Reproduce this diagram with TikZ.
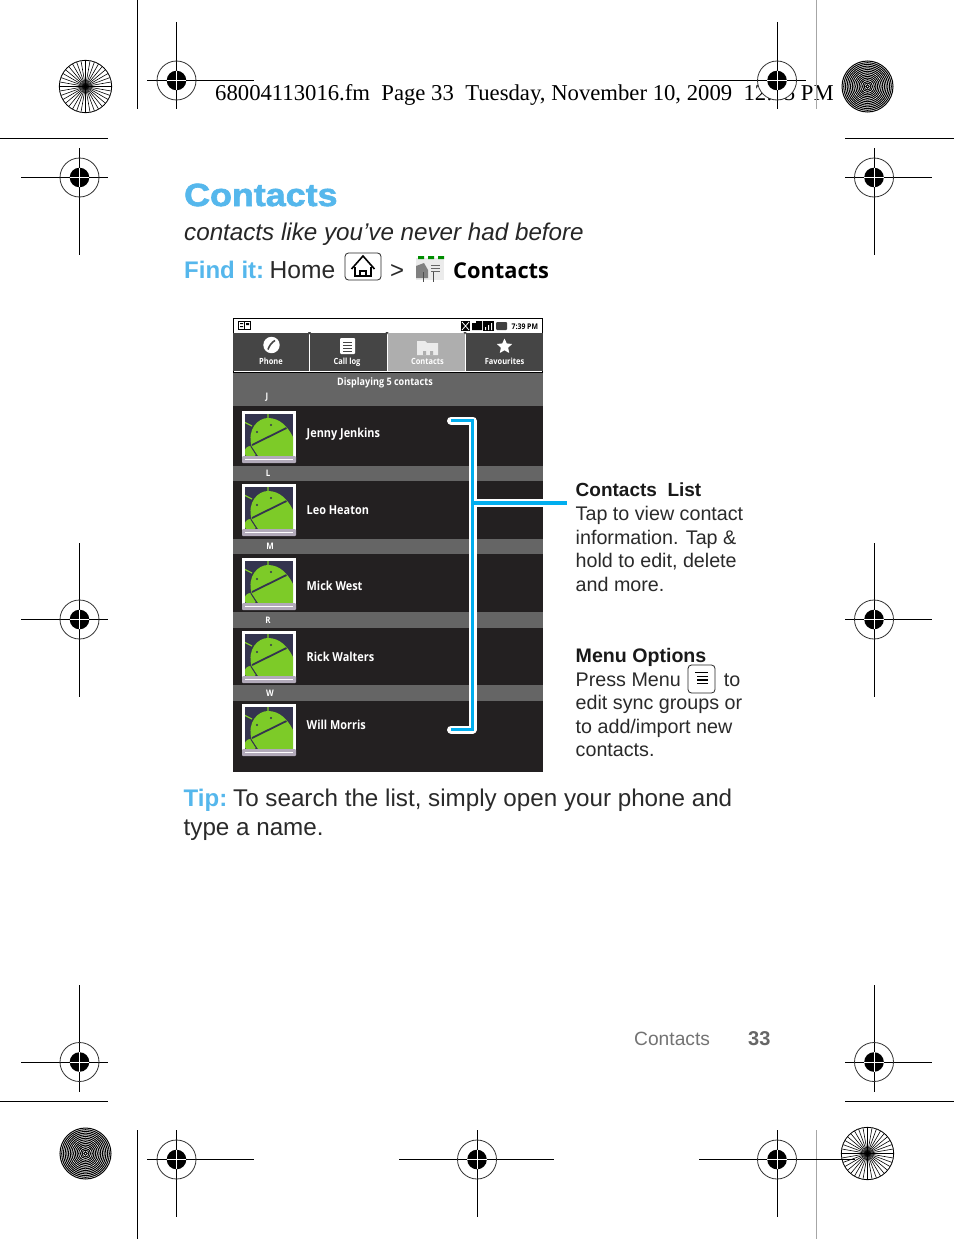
\documentclass[tikz,border=0pt]{standalone}
\usepackage{fontspec}
\setmainfont{Liberation Sans}
\newfontfamily\headfont{Liberation Serif}
\newfontfamily\titlefont[FakeStretch=1.12,FakeBold=2]{Liberation Sans Bold}
\newfontfamily\droidfont[FakeStretch=0.88]{Open Sans}
\newfontfamily\openfont{Open Sans}
\usetikzlibrary{shapes.geometric}
\definecolor{mottitle}{HTML}{55B7EC}
\definecolor{motbody}{HTML}{2A2A2A}
\definecolor{calloutblue}{HTML}{00AEEF}
\definecolor{rowdark}{HTML}{232021}
\definecolor{rowgray}{HTML}{656565}
\definecolor{tabdark}{HTML}{454545}
\definecolor{tablight}{HTML}{AEAEAE}
\definecolor{picback}{HTML}{34344F}
\definecolor{picgreen}{HTML}{7DCB28}
\definecolor{picbar}{HTML}{B2AABA}
\tikzset{
  txt/.style={inner sep=0pt,anchor=base west,text=motbody},
  body/.style={txt,font=\fontsize{19.7}{23.5}\selectfont,align=left},
  key/.style={draw=black!85,line width=0.8pt,rounded corners=3.5pt,fill=white},
  tablabel/.style={inner sep=0pt,anchor=base,text=white,font=\droidfont\bfseries\fontsize{8.5}{8.5}\selectfont},
  rowname/.style={inner sep=0pt,anchor=base west,text=white,font=\droidfont\bfseries\fontsize{12.4}{12.4}\selectfont},
  rowletter/.style={inner sep=0pt,anchor=base,text=white,font=\droidfont\bfseries\fontsize{9}{9}\selectfont},
  glow/.style={draw=white,line width=8pt,line cap=round,line join=round},
  bluebar/.style={draw=calloutblue,line width=3.4pt,line join=miter},
  markline/.style={black,line width=1pt},
}
% registration mark: name, x, y, left, right, top, bottom
\newcommand{\regmark}[7]{
  \coordinate (#1) at (#2,#3);
  \fill[white] (#1) circle[radius=19.5pt];
  \draw[markline] (#4,#3) -- (#5,#3) (#2,#6) -- (#2,#7);
  \draw[black!80,line width=0.8pt] (#1) circle[radius=19.5pt];
  \fill[black] (#1) circle[radius=9.8pt];
  \draw[white,line width=0.9pt] (#2-9.8,#3) -- (#2+9.8,#3) (#2,#3-9.8) -- (#2,#3+9.8);
}
\newcommand{\spokes}[2]{
  \foreach \a in {0,10,...,350}
    \draw[black,line width=0.6pt] (#1,#2) -- +(\a:26.2pt);
  \draw[black,line width=0.8pt] (#1,#2) circle[radius=26.2pt];
}
\newcommand{\rings}[2]{
  \foreach \r in {1.7,3.4,...,26.2}
    \draw[black,line width=1pt] (#1,#2) circle[radius=\r pt];
}
% contact picture, #1 = top edge
\newcommand{\contactpic}[1]{
  \begin{scope}[shift={(0,#1)}]
    \fill[white] (242,0) rectangle (296,46);
    \fill[picback] (245,3) rectangle (293,45);
    \begin{scope}
      \clip (245,3) rectangle (293,45);
      \fill[picgreen] (250.5,41) circle[radius=6pt];
      \draw[picback,line width=1.5pt] (251,35) -- (258,46);
      \fill[picgreen] (251.5,35) .. controls (247,18) and (258,7) .. (268,7) .. controls (280,7) and (288,16) .. (293,26) -- (293,45) -- (258,45) -- cycle;
      \draw[picgreen,line width=1.2pt] (268,2) -- (268,9) (244,11) -- (252,15);
      \draw[picback,line width=1.8pt] (252,34) -- (286.5,17);
      \fill[picback] (257,21) circle[radius=1.2pt] (271,14) circle[radius=1.2pt];
    \end{scope}
    \fill[picbar,rounded corners=1pt] (242,45) rectangle (296,52);
    \draw[white,line width=1pt] (245,48.5) -- (293,48.5);
  \end{scope}
}
\begin{document}
\begin{tikzpicture}[x=1pt,y=-1pt]
\useasboundingbox (0,0) rectangle (954,1239);
\fill[white] (0,0) rectangle (954,1239);

% printer header
\node[txt,text=black,font=\headfont\fontsize{22.7}{22.7}\selectfont] (header) at (215,100) {68004113016.fm\ \ Page 33\ \ Tuesday, November 10, 2009\ \ 12:15 PM};

% crop lines
\draw[markline] (0,138) -- (108,138) (845,138) -- (954,138);
\draw[markline] (0,1101) -- (108,1101) (845,1101) -- (954,1101);
\draw[markline] (137.5,0) -- (137.5,109) (137.5,1130) -- (137.5,1239);
\draw[black!35,line width=1pt] (816.5,0) -- (816.5,109) (816.5,1130) -- (816.5,1239);

% targets
\spokes{85.5}{86.5}
\rings{867.5}{86.5}
\rings{85.5}{1153.5}
\spokes{867.5}{1153.5}

\regmark{markA}{176.5}{80.5}{147}{254}{22}{109}
\regmark{markB}{777}{80.5}{699}{806}{22}{109}
\regmark{markC}{79.5}{177.5}{21}{108}{148}{255}
\regmark{markD}{874}{177.5}{845}{932}{148}{255}
\regmark{markE}{79.5}{619.5}{21}{108}{543}{697}
\regmark{markF}{874}{619.5}{845}{932}{543}{697}
\regmark{markG}{79.5}{1062}{21}{108}{985}{1092}
\regmark{markH}{874}{1062}{845}{932}{985}{1092}
\regmark{markI}{176.5}{1159.5}{147}{254}{1130}{1217}
\regmark{markJ}{477}{1159.5}{399}{554}{1130}{1217}
\regmark{markK}{777}{1159.5}{699}{855}{1130}{1217}

% headings
\node[txt,text=mottitle,font=\titlefont\fontsize{32}{32}\selectfont] (title) at (184,206) {Contacts};
\node[txt,text=black!85,font=\itshape\fontsize{24.2}{24.2}\selectfont] (subtitle) at (184,240) {contacts like you’ve never had before};
\node[txt,text=mottitle,font=\bfseries\fontsize{24}{24}\selectfont] (findit) at (184,278) {Find it:};
\node[txt,font=\fontsize{24.6}{24.6}\selectfont] (home) at (269.5,278) {Home};
\node[txt,font=\fontsize{24}{24}\selectfont] (gt) at (390,278) {>};
\node[txt,text=black,font=\openfont\bfseries\fontsize{21.8}{21.8}\selectfont] (findcontacts) at (453,278) {Contacts};

% home key
\node[key,minimum width=36pt,minimum height=27pt,inner sep=0pt] (homekey) at (363,266.5) {};
\draw[black,line width=1.6pt,line join=miter] (351.5,269) -- (363,256) -- (374.5,269);
\draw[black,line width=1.3pt] (355,267) -- (355,276) -- (371,276) -- (371,267);
\draw[black,line width=1.3pt] (360,276) -- (360,271) -- (366,271) -- (366,276);

% contacts icon
\fill[black!8] (416,258) rectangle (444,280);
\fill[green!55!black] (418,256) rectangle (424,259) (428,256) rectangle (434,259) (438,256) rectangle (444,259);
\fill[black!50] (416,266) -- (424,263) -- (428,270) -- (428,278) -- (416,278) -- cycle;
\draw[black!70,line width=1pt] (423,272) -- (423,282) (433,272) -- (433,282);
\draw[black!60,line width=0.7pt] (431,265) -- (440,265) (431,268) -- (440,268) (431,271) -- (440,271);

% phone screen
\fill[rowdark] (233,318) rectangle (543,772);
\fill[white] (233,318) rectangle (543,373);
\draw[black,line width=1pt] (233.5,318.5) rectangle (542.5,372);
\fill[tabdark] (233,333) rectangle (309,371);
\fill[tabdark] (310,333) rectangle (386.5,371);
\fill[tablight] (387.5,333) rectangle (464.5,371);
\fill[tabdark] (465.5,333) rectangle (543,371);
\fill[rowgray] (233,373) rectangle (543,406);
\foreach \ya/\yb in {466/481,539/554,612/628,685/701}
  \fill[rowgray] (233,\ya) rectangle (543,\yb);
\foreach \x in {309.5,387,465}
  \fill[black!75] (\x-1.5,332) -- (\x+1.5,332) -- (\x,334.5) -- cycle;

% status bar
\draw[black,line width=1pt] (238.5,321) rectangle (250.5,329.5) (244.5,321) -- (244.5,329.5);
\fill[black] (240,323) rectangle (243,324) (240,326) rectangle (243,327) (246,323) rectangle (249,325);
\fill[black] (461,321) rectangle (470,331);
\draw[white,line width=0.8pt] (462,322) -- (469,330) (469,322) -- (462,330);
\fill[black] (472,323) -- (476,323) -- (476,321) -- (482,321) -- (482,330) -- (472,330) -- cycle;
\fill[black] (483,321) rectangle (494,331);
\fill[white] (485,327) rectangle (486,330) (488,325) rectangle (489,330) (491,323) rectangle (492,330);
\fill[black!75,rounded corners=1pt] (496,322) rectangle (507,330);
\node[inner sep=0pt,anchor=base west,font=\droidfont\bfseries\fontsize{7.8}{7.8}\selectfont] (clock) at (511.5,329) {7:39 PM};

% tab icons
\fill[white] (271.5,345) circle[radius=8.2pt];
\draw[tabdark,line width=1.6pt] (275,340.5) .. controls (272,342) and (269,346) .. (268,349.5);
\fill[white,rounded corners=1pt] (340,338) rectangle (355,354);
\draw[tabdark,line width=1pt] (343,342) -- (352,342) (343,345) -- (352,345) (343,348) -- (352,348) (343,351) -- (352,351);
\fill[white!92!black] (417,341) -- (425,341) -- (427,343) -- (438,343) -- (438,355) -- (417,355) -- cycle;
\fill[tablight] (423,351) rectangle (426,355) (430,351) rectangle (433,355);
\node[star,star points=5,star point ratio=2.1,fill=white,inner sep=0pt,minimum size=16pt] (favstar) at (504.5,346.5) {};

% tab labels
\node[tablabel] (tabphone) at (271,364) {Phone};
\node[tablabel] (tablog) at (347,364) {Call log};
\node[tablabel] (tabcontacts) at (427.5,364) {Contacts};
\node[tablabel] (tabfav) at (504.5,364) {Favourites};
\node[inner sep=0pt,anchor=base,text=white,font=\droidfont\bfseries\fontsize{10.3}{10.3}\selectfont] (displaying) at (385,385) {Displaying 5 contacts};

% section letters and names
\node[rowletter] (letterJ) at (267,399) {J};
\node[rowletter] (letterL) at (268,476.5) {L};
\node[rowletter] (letterM) at (270,549) {M};
\node[rowletter] (letterR) at (268,623) {R};
\node[rowletter] (letterW) at (270,696.5) {W};
\node[rowname] (jenny) at (306.5,437) {Jenny Jenkins};
\node[rowname] (leo) at (306.5,514) {Leo Heaton};
\node[rowname] (mick) at (306.5,590) {Mick West};
\node[rowname] (rick) at (306.5,661) {Rick Walters};
\node[rowname] (will) at (306.5,729) {Will Morris};

\foreach \y in {411,484,558,631,704} {
  \contactpic{\y}
}

% bracket
\coordinate (brackettop) at (451,420.5);
\coordinate (bracketcornerA) at (472.5,420.5);
\coordinate (bracketcornerB) at (472.5,729.5);
\coordinate (bracketbottom) at (451,729.5);
\coordinate (bracketjoin) at (472.5,503);
\coordinate (bracketend) at (567,503);
\coordinate (glowend) at (543,503);
\draw[glow] (brackettop) -- (bracketcornerA) -- (bracketcornerB) -- (bracketbottom);
\draw[white,line width=8pt] (bracketjoin) -- (glowend);
\draw[bluebar] (brackettop) -- (bracketcornerA) -- (bracketcornerB) -- (bracketbottom);
\draw[bluebar] (bracketjoin) -- (bracketend);

% callouts
\node[txt,text=black!90,font=\bfseries\fontsize{19}{19}\selectfont] (listhead) at (575.5,496.5) {Contacts\ \ List};
\node[body] (listtext) at (575.5,591) {Tap to view contact\\information. Tap \&\\hold to edit, delete\\and more.};
\node[txt,text=black!90,font=\bfseries\fontsize{19.6}{19.6}\selectfont] (menuhead) at (575.5,662.5) {Menu Options};
\node[body] (menutext) at (575.5,756.5) {Press Menu\hspace{43pt}to\\edit sync groups or\\to add/import new\\contacts.};
\node[key,minimum width=27pt,minimum height=28pt,inner sep=0pt] (menukey) at (701.5,679) {};
\draw[black,line width=1.3pt] (695,672.5) -- (708,672.5);
\draw[black,line width=1.3pt] (697,676.5) -- (708,676.5) (697,680) -- (708,680) (697,683.5) -- (708,683.5);

% tip
\node[txt,text=mottitle,font=\bfseries\fontsize{24}{24}\selectfont] (tiplabel) at (183.5,806) {Tip:};
\node[txt,font=\fontsize{24.2}{29}\selectfont,align=left] (tiptext) at (183.5,835) {\hspace{49.5pt}To search the list, simply open your phone and\\type a name.};

% footer
\node[txt,text=black!55,font=\fontsize{19.2}{19.2}\selectfont] (footname) at (634,1045) {Contacts};
\node[txt,text=black!60,font=\bfseries\fontsize{20}{20}\selectfont] (footpage) at (748,1045) {33};
\end{tikzpicture}
\end{document}
